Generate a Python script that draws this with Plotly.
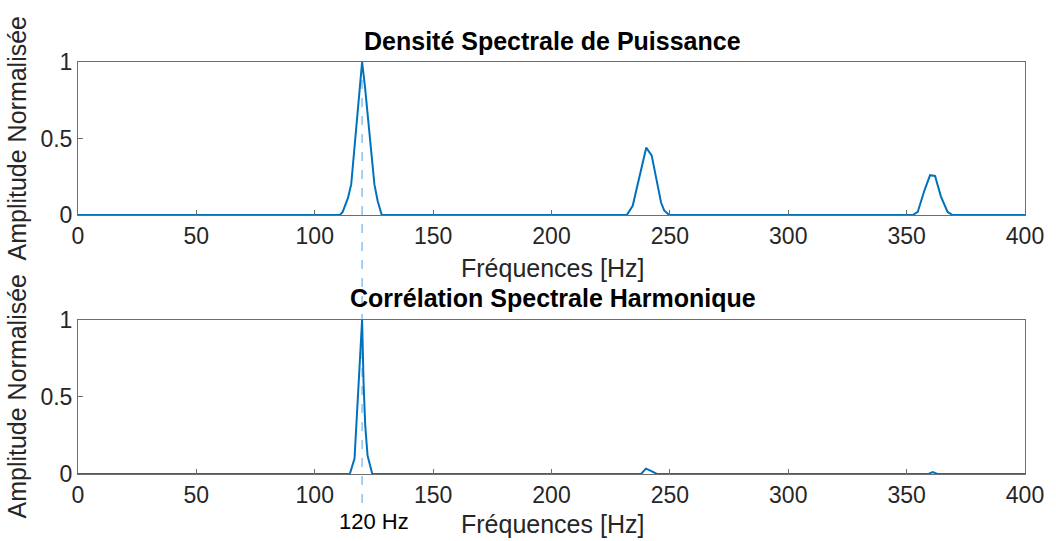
import plotly.graph_objects as go
from plotly.subplots import make_subplots

# Power spectral density (normalised), vertices of the spectrum trace
psd_freq = [0, 110.6, 111.8, 114.0, 115.4, 120.0, 121.2, 125.2, 126.6, 128.3,
            231.8, 234.3, 240.0, 242.3, 246.3, 247.6, 249.7,
            352.6, 354.7, 357.5, 359.9, 362.0, 364.5, 367.3, 369.4, 400]
psd_amp = [0, 0, 0.02, 0.11, 0.2, 1.0, 0.84, 0.2, 0.09, 0,
           0, 0.06, 0.44, 0.39, 0.08, 0.03, 0,
           0, 0.02, 0.16, 0.26, 0.255, 0.12, 0.02, 0, 0]

# Harmonic spectral correlation (normalised)
hsc_freq = [0, 114.8, 116.8, 119.0, 120.0, 120.6, 121.3, 122.3, 124.3,
            237.8, 239.9, 242.0, 244.5, 359.3, 361.0, 363.0, 400]
hsc_amp = [0, 0, 0.1, 0.7, 1.0, 0.6, 0.32, 0.12, 0,
           0, 0.035, 0.02, 0, 0, 0.012, 0, 0]

fund_freq = 120
x_ticks = [0, 50, 100, 150, 200, 250, 300, 350, 400]
y_ticks = [0, 0.5, 1]

line_color = "#0072BD"
axis_color = "#6e6e6e"
text_color = "#262626"
font_family = "Liberation Sans, Arial, sans-serif"

fig = make_subplots(rows=2, cols=1, vertical_spacing=0.255)

fig.add_trace(go.Scatter(x=psd_freq, y=psd_amp, mode="lines",
                         line=dict(color=line_color, width=2),
                         showlegend=False), row=1, col=1)
fig.add_trace(go.Scatter(x=hsc_freq, y=hsc_amp, mode="lines",
                         line=dict(color=line_color, width=2),
                         showlegend=False), row=2, col=1)

axis_common = dict(showline=True, linecolor=axis_color, linewidth=1, mirror=True,
                   ticks="inside", ticklen=5, tickcolor=axis_color,
                   showgrid=False, zeroline=False,
                   tickfont=dict(size=23, color=text_color, family=font_family))

fig.update_xaxes(range=[0, 400], tickvals=x_ticks, **axis_common)
fig.update_yaxes(range=[0, 1], tickvals=y_ticks,
                 ticktext=["0", "0.5", "1"], **axis_common)

fig.update_layout(
    xaxis=dict(domain=[0, 1]),
    yaxis=dict(domain=[0.6286, 1.0]),
    xaxis2=dict(domain=[0, 1]),
    yaxis2=dict(domain=[0.0, 0.3738]),
)

# Dashed marker at the fundamental frequency, spanning both panels
fig.add_shape(type="line", xref="x", yref="paper",
              x0=fund_freq, x1=fund_freq, y0=1.0, y1=-0.075,
              line=dict(color="#8fc0ea", width=1.5, dash="dash"), layer="below")

def add_text(text, x, y, size, bold=False, angle=0, color="black"):
    fig.add_annotation(text=f"<b>{text}</b>" if bold else text,
                       xref="paper", yref="paper", x=x, y=y,
                       xanchor="center", yanchor="middle",
                       textangle=angle, showarrow=False,
                       font=dict(size=size, color=color, family=font_family))

H = 412.0
W = 955.0
def py(pix):
    return (474 - pix) / H

def px(pix):
    return (pix - 78) / W

add_text("Densité Spectrale de Puissance", px(557), py(41), 25, bold=True)
add_text("Corrélation Spectrale Harmonique", px(557), py(298), 25, bold=True)
add_text("Fréquences [Hz]", px(557), py(268), 25, color=text_color)
add_text("Fréquences [Hz]", px(557), py(524), 25, color=text_color)
add_text("Amplitude Normalisée", px(16), py(138), 25, angle=-90, color=text_color)
add_text("Amplitude Normalisée", px(16), py(396), 25, angle=-90, color=text_color)
add_text(f"{fund_freq} Hz", px(377), py(521), 22, color="black")

fig.update_layout(
    width=1056, height=541,
    margin=dict(l=78, r=23, t=62, b=67),
    paper_bgcolor="white", plot_bgcolor="white",
    font=dict(family=font_family),
)

fig.write_html("out.html")
